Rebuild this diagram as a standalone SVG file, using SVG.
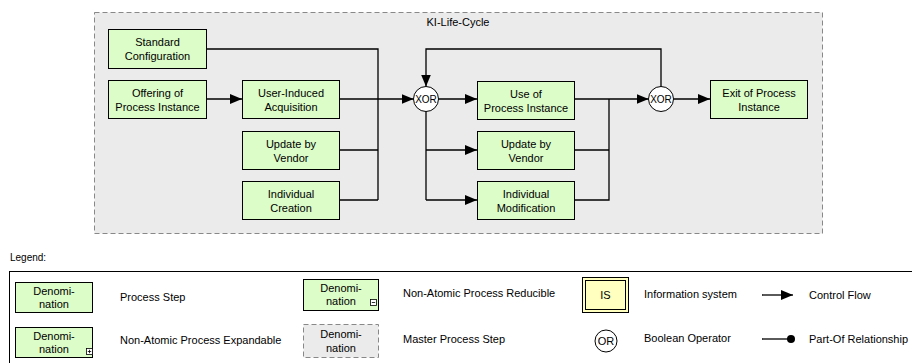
<svg xmlns="http://www.w3.org/2000/svg" width="912" height="363" viewBox="0 0 912 363">
<style>
text{font-family:"Liberation Sans",Arial,sans-serif;font-size:11px;fill:#000}
.c{text-anchor:middle}
.step{fill:#dcfcc8;stroke:#000;stroke-width:1}
.master{fill:#ebebeb;stroke:#888;stroke-width:1;stroke-dasharray:5,3}
.conn{fill:none;stroke:#000;stroke-width:1.3}
.op{fill:#fff;stroke:#000;stroke-width:1}
</style>
<defs>
<marker id="arr" viewBox="0 0 12 10" refX="12" refY="5" markerWidth="12" markerHeight="10" markerUnits="userSpaceOnUse" orient="auto">
<path d="M0,0 L12,5 L0,10 Z" fill="#000"/>
</marker>
</defs>
<rect width="912" height="363" fill="#fff"/>
<g id="container">
<rect class="master" x="94.5" y="12.5" width="728" height="221"/>
<text class="c" x="458" y="26">KI-Life-Cycle</text>
</g>
<g id="connectors">
<path class="conn" d="M207,49H378V200"/>
<path class="conn" d="M339,150H378"/>
<path class="conn" d="M339,200H378"/>
<path class="conn" d="M207,99H242" marker-end="url(#arr)"/>
<path class="conn" d="M339,99H413.5" marker-end="url(#arr)"/>
<path class="conn" d="M661,86.5V49H426V86.5" marker-end="url(#arr)"/>
<path class="conn" d="M438.5,99H477" marker-end="url(#arr)"/>
<path class="conn" d="M426,111.5V200"/>
<path class="conn" d="M426,150H477" marker-end="url(#arr)"/>
<path class="conn" d="M426,200H477" marker-end="url(#arr)"/>
<path class="conn" d="M574,150H609"/>
<path class="conn" d="M574,200H609V99"/>
<path class="conn" d="M574,99H648.5" marker-end="url(#arr)"/>
<path class="conn" d="M673.5,99H710" marker-end="url(#arr)"/>
</g>
<g id="standard-configuration">
<rect class="step" x="108.5" y="29.5" width="98" height="39"/>
<text class="c" x="157.5" y="46">Standard</text>
<text class="c" x="157.5" y="60">Configuration</text>
</g>
<g id="offering">
<rect class="step" x="108.5" y="80.5" width="98" height="38"/>
<text class="c" x="157.5" y="96.5">Offering of</text>
<text class="c" x="157.5" y="110.5">Process Instance</text>
</g>
<g id="user-induced-acquisition">
<rect class="step" x="242.5" y="80.5" width="97" height="38"/>
<text class="c" x="291" y="96.5">User-Induced</text>
<text class="c" x="291" y="110.5">Acquisition</text>
</g>
<g id="update-by-vendor-1">
<rect class="step" x="242.5" y="131.5" width="97" height="38"/>
<text class="c" x="291" y="147.5">Update by</text>
<text class="c" x="291" y="161.5">Vendor</text>
</g>
<g id="individual-creation">
<rect class="step" x="242.5" y="181.5" width="97" height="38"/>
<text class="c" x="291" y="197.5">Individual</text>
<text class="c" x="291" y="211.5">Creation</text>
</g>
<g id="xor1">
<circle class="op" cx="426" cy="99" r="12.5"/>
<text class="c" x="426" y="103" style="font-size:10px">XOR</text>
</g>
<g id="use-of-process-instance">
<rect class="step" x="477.5" y="81.5" width="97" height="38"/>
<text class="c" x="526" y="97.5">Use of</text>
<text class="c" x="526" y="111.5">Process Instance</text>
</g>
<g id="update-by-vendor-2">
<rect class="step" x="477.5" y="131.5" width="97" height="38"/>
<text class="c" x="526" y="147.5">Update by</text>
<text class="c" x="526" y="161.5">Vendor</text>
</g>
<g id="individual-modification">
<rect class="step" x="477.5" y="181.5" width="97" height="38"/>
<text class="c" x="526" y="197.5">Individual</text>
<text class="c" x="526" y="211.5">Modification</text>
</g>
<g id="xor2">
<circle class="op" cx="661" cy="99" r="12.5"/>
<text class="c" x="661" y="103" style="font-size:10px">XOR</text>
</g>
<g id="exit-of-process-instance">
<rect class="step" x="710.5" y="80.5" width="97" height="38"/>
<text class="c" x="759" y="96.5">Exit of Process</text>
<text class="c" x="759" y="110.5">Instance</text>
</g>
<g id="legend">
<text x="10" y="261" style="font-size:10px">Legend:</text>
<rect x="9.5" y="271.5" width="920" height="120" fill="#fff" stroke="#000" stroke-width="1"/>
<rect class="step" x="15.5" y="282.5" width="77" height="30"/>
<text class="c" x="54" y="295">Denomi-</text>
<text class="c" x="54" y="308">nation</text>
<text x="120" y="301">Process Step</text>
<rect class="step" x="15.5" y="327.5" width="77" height="30"/>
<text class="c" x="54" y="340">Denomi-</text>
<text class="c" x="54" y="353">nation</text>
<rect x="86.5" y="348.5" width="6" height="6" fill="#fff" stroke="#000" stroke-width="0.8"/>
<path d="M87.8,351.5H91.2M89.5,349.8V353.2" stroke="#000" stroke-width="0.8"/>
<text x="120" y="344">Non-Atomic Process Expandable</text>
<rect class="step" x="303.5" y="279.5" width="75" height="31"/>
<text class="c" x="341" y="292">Denomi-</text>
<text class="c" x="341" y="305">nation</text>
<rect x="370.5" y="299.5" width="6" height="6" fill="#fff" stroke="#000" stroke-width="0.8"/>
<path d="M371.8,302.5H375.2" stroke="#000" stroke-width="0.8"/>
<text x="403" y="297">Non-Atomic Process Reducible</text>
<rect class="master" x="303.5" y="324.5" width="75" height="33"/>
<text class="c" x="341" y="338">Denomi-</text>
<text class="c" x="341" y="352">nation</text>
<text x="403" y="343">Master Process Step</text>
<rect x="582.5" y="277.5" width="46" height="35" fill="#ffffc0" stroke="#000" stroke-width="1"/>
<rect x="585.5" y="280.5" width="40" height="29" fill="none" stroke="#000" stroke-width="1"/>
<text class="c" x="605.5" y="299">IS</text>
<text x="644" y="298">Information system</text>
<circle cx="606" cy="341" r="11" fill="#fff" stroke="#000" stroke-width="1"/>
<text class="c" x="606" y="345">OR</text>
<text x="644" y="342">Boolean Operator</text>
<path d="M762,295H793" stroke="#000" stroke-width="1.3" marker-end="url(#arr)"/>
<text x="809" y="299">Control Flow</text>
<path d="M762,339H790" stroke="#000" stroke-width="1.3"/>
<circle cx="791" cy="339" r="4" fill="#000"/>
<text x="809" y="343">Part-Of Relationship</text>
</g>
</svg>
